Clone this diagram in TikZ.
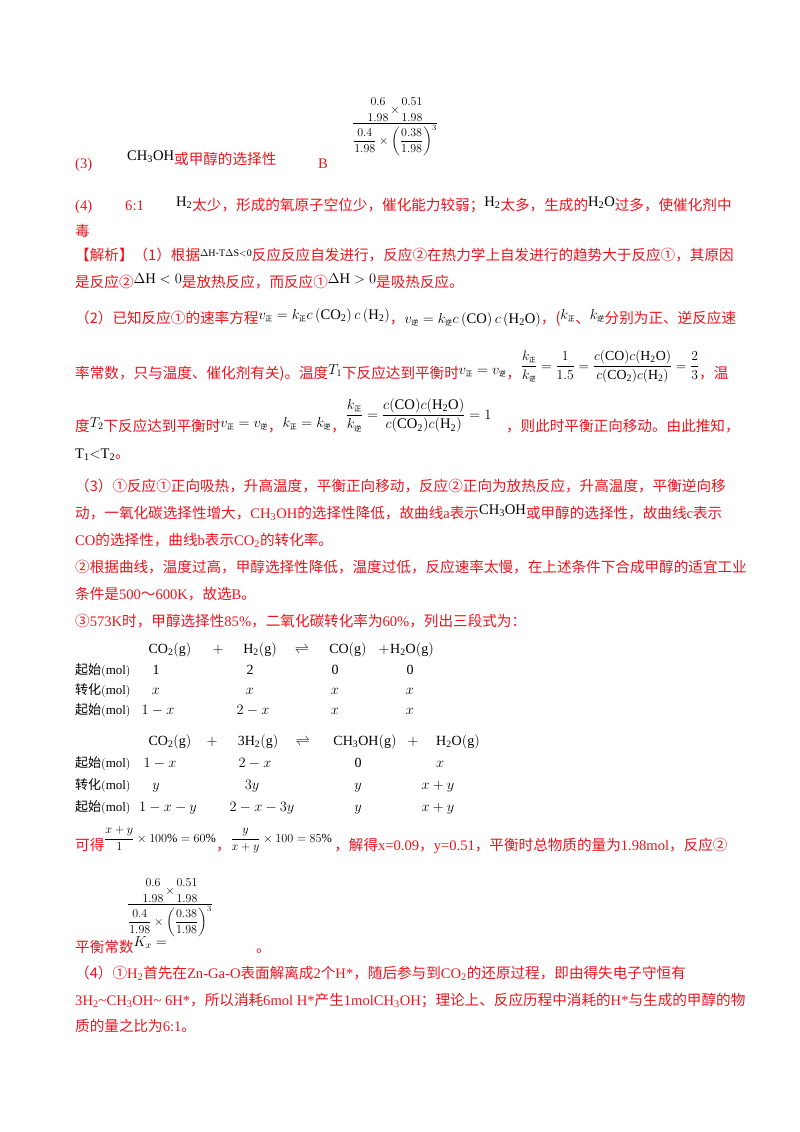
\documentclass[tikz,border=0pt]{standalone}
\usepackage{amsmath}
\usepackage{graphicx}
\usepackage{fontspec}
\setmainfont{Noto Sans CJK SC}
\setmathrm{Liberation Serif}
\newfontfamily\tm{Liberation Serif}
\definecolor{rd}{RGB}{235,20,30}
\newcommand\m[1]{\textcolor{black}{$#1$}}
\newcommand\up[1]{\raisebox{4pt}{\m{#1}}}
\newcommand\zs[1]{\mbox{\fontsize{7}{7}\selectfont #1}}
\newcommand\Tm[1]{{\tm #1}}
\newcommand\bigfrac{$\dfrac{\genfrac{}{}{0pt}{0}{0.6}{1.98}\!\times\!\genfrac{}{}{0pt}{0}{0.51}{1.98}}{\dfrac{0.4}{1.98}\times\left(\dfrac{0.38}{1.98}\right)^{3}}$}
\begin{document}
\begin{tikzpicture}[x=1pt,y=-1pt,
  t/.style={anchor=base west,inner sep=0pt,text=rd,font=\fontsize{14.6}{16}\selectfont},
  b/.style={anchor=base,inner sep=0pt,text=black,font=\tm\fontsize{14}{16}\selectfont},
  lb/.style={anchor=base west,inner sep=0pt,text=black,font=\fontsize{13}{15}\selectfont},
  fr/.style={inner sep=0pt,text=black,font=\fontsize{12}{14}\selectfont}]
\useasboundingbox (0,0) rectangle (800,1132);
% top
\node[fr] (f1) at (395,127) {\bigfrac};
\node[t] (l3) at (75,168) {\Tm{(3)}};
\node[t] (l3b) at (127,164) {\up{\mathrm{CH_3OH}}或甲醇的选择性};
\node[t] (l3c) at (318,168) {\Tm{B}};
\node[t] (l4) at (75,210) {\Tm{(4)}};
\node[t] (l4a) at (125,210) {\Tm{6:1}};
\node[t] (l4b) at (176,210) {\up{\mathrm{H_2}}太少，形成的氧原子空位少，催化能力较弱；\up{\mathrm{H_2}}太多，生成的\up{\mathrm{H_2O}}过多，使催化剂中};
\node[t] (l4c) at (75,236) {毒};
\node[t] (a1) at (75,260) {【解析】（1）根据\raisebox{4pt}{\fontsize{10}{10}\selectfont\m{\Delta\mathrm{H\text{-}T}\Delta\mathrm{S{<}0}}}反应反应自发进行，反应②在热力学上自发进行的趋势大于反应①，其原因};
\node[t] (a2) at (75,287) {是反应②\up{\Delta\mathrm{H}<0}是放热反应，而反应①\up{\Delta\mathrm{H}>0}是吸热反应。};
\node[t] (a3) at (75,323) {（2）已知反应①的速率方程\up{v_{\zs{正}}=k_{\zs{正}}c\left(\mathrm{CO_2}\right)c\left(\mathrm{H_2}\right)}，\m{v_{\zs{逆}}=k_{\zs{逆}}c\left(\mathrm{CO}\right)c\left(\mathrm{H_2O}\right)}，(\up{k_{\zs{正}}}、\up{k_{\zs{逆}}}分别为正、逆反应速};
\node[t] (a4) at (75,378) {率常数，只与温度、催化剂有关)。温度\up{T_1}下反应达到平衡时\up{v_{\zs{正}}=v_{\zs{逆}}}，\raisebox{8pt}{\scalebox{0.95}{\m{\dfrac{k_{\zs{正}}}{k_{\zs{逆}}}=\dfrac{1}{1.5}=\dfrac{c(\mathrm{CO})c(\mathrm{H_2O})}{c(\mathrm{CO_2})c(\mathrm{H_2})}=\dfrac{2}{3}}}}，温};
\node[t] (a5) at (75,431) {度\up{T_2}下反应达到平衡时\up{v_{\zs{正}}=v_{\zs{逆}}}，\up{k_{\zs{正}}=k_{\zs{逆}}}，\raisebox{12pt}{\m{\dfrac{k_{\zs{正}}}{k_{\zs{逆}}}=\dfrac{c(\mathrm{CO})c(\mathrm{H_2O})}{c(\mathrm{CO_2})c(\mathrm{H_2})}=1}}\quad，则此时平衡正向移动。由此推知，};
\node[t] (a6) at (75,458) {\m{\mathrm{T_1{<}T_2}}。};
\node[t] (b1) at (75,491) {（3）①反应①正向吸热，升高温度，平衡正向移动，反应②正向为放热反应，升高温度，平衡逆向移};
\node[t] (b2) at (75,518) {动，一氧化碳选择性增大，\Tm{CH\textsubscript{3}OH}的选择性降低，故曲线\Tm{a}表示\up{\mathrm{CH_3OH}}或甲醇的选择性，故曲线\Tm{c}表示};
\node[t] (b3) at (75,545) {\Tm{CO}的选择性，曲线\Tm{b}表示\Tm{CO\textsubscript{2}}的转化率。};
\node[t] (b4) at (75,572) {②根据曲线，温度过高，甲醇选择性降低，温度过低，反应速率太慢，在上述条件下合成甲醇的适宜工业};
\node[t] (b5) at (75,599) {条件是\Tm{500}～\Tm{600K}，故选\Tm{B}。};
\node[t] (b6) at (75,626) {③\Tm{573K}时，甲醇选择性\Tm{85\%}，二氧化碳转化率为\Tm{60\%}，列出三段式为：};
% tables
\foreach \yy/\lab in {674/起始, 694/转化, 714/起始, 767/起始, 789/转化, 811/起始}
  \node[lb] at (75,\yy) {\lab\m{\left(\mathrm{mol}\right)}};
\foreach \xx/\s in {170/{$\mathrm{CO_2(g)}$},218/$+$,260/{$\mathrm{H_2(g)}$},302/$\rightleftharpoons$,348/{$\mathrm{CO(g)}$},384/$+$,412/{$\mathrm{H_2O(g)}$}}
  \node[b] at (\xx,653) {\s};
\foreach \xx/\s in {156/1,250/2,335/0,410/0}  \node[b] at (\xx,674) {\s};
\foreach \xx/\s in {156/$x$,250/$x$,335/$x$,410/$x$}  \node[b] at (\xx,694) {\s};
\foreach \xx/\s in {158/$1-x$,253/$2-x$,335/$x$,410/$x$}  \node[b] at (\xx,714) {\s};
\foreach \xx/\s in {170/{$\mathrm{CO_2(g)}$},212/$+$,258/{$\mathrm{3H_2(g)}$},303/$\rightleftharpoons$,365/{$\mathrm{CH_3OH(g)}$},413/$+$,458/{$\mathrm{H_2O(g)}$}}
  \node[b] at (\xx,745) {\s};
\foreach \xx/\s in {160/$1-x$,255/$2-x$,358/0,440/$x$}  \node[b] at (\xx,767) {\s};
\foreach \xx/\s in {156/$y$,252/$3y$,358/$y$,438/$x+y$}  \node[b] at (\xx,789) {\s};
\foreach \xx/\s in {168/$1-x-y$,262/$2-x-3y$,358/$y$,438/$x+y$}  \node[b] at (\xx,811) {\s};
% result
\node[t] (c1) at (75,850) {可得\raisebox{8pt}{\scalebox{0.85}{\m{\dfrac{x+y}{1}\times100\%=60\%}}}，\raisebox{8pt}{\scalebox{0.85}{\m{\dfrac{y}{x+y}\times100=85\%}}}\,，解得\Tm{x=0.09}，\Tm{y=0.51}，平衡时总物质的量为\Tm{1.98mol}，反应②};
\node[t] (c2) at (75,952) {平衡常数\raisebox{6pt}{\m{K_x=}}};
\node[fr] (f2) at (170,908) {\bigfrac};
\node[t] (c3) at (256,952) {。};
\node[t] (d1) at (75,978) {（4）①\Tm{H\textsubscript{2}}首先在\Tm{Zn-Ga-O}表面解离成\Tm{2}个\Tm{H*}，随后参与到\Tm{CO\textsubscript{2}}的还原过程，即由得失电子守恒有};
\node[t] (d2) at (75,1005) {\Tm{3H\textsubscript{2}\textasciitilde CH\textsubscript{3}OH\textasciitilde\ 6H*}，所以消耗\Tm{6mol H*}产生\Tm{1molCH\textsubscript{3}OH}；理论上、反应历程中消耗的\Tm{H*}与生成的甲醇的物};
\node[t] (d3) at (75,1031) {质的量之比为\Tm{6:1}。};
\end{tikzpicture}
\end{document}
